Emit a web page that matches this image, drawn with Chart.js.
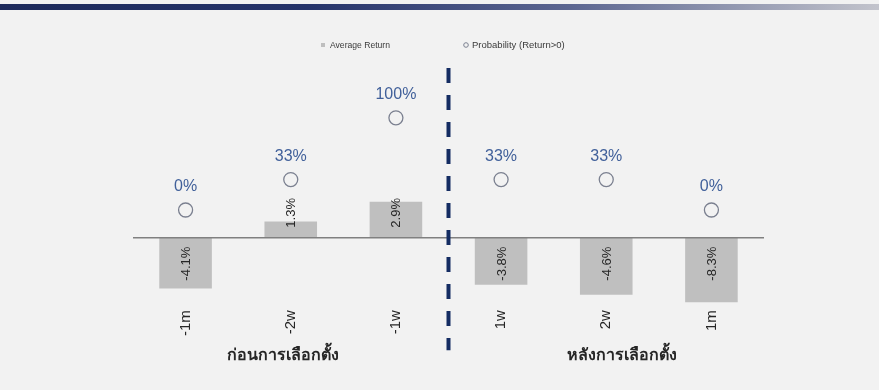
<!DOCTYPE html>
<html>
<head>
<meta charset="utf-8">
<script src="https://cdn.jsdelivr.net/npm/chart.js@4.4.1/dist/chart.umd.min.js"></script>
<style>
  html, body { margin: 0; padding: 0; background: #f2f2f2; }
  .top-band { position: absolute; left: 0; top: 4px; width: 879px; height: 6px;
    background: linear-gradient(to right, #1d2a5b 0%, #25336a 35%, #5c6691 65%, #c3c4cc 100%); }
  .chart-box { position: relative; width: 879px; height: 390px; }
</style>
</head>
<body>
<div class="chart-box">
  <div class="top-band"></div>
  <canvas id="chart_main" width="879" height="390"></canvas>
</div>
<script>
var categories = ["-1m", "-2w", "-1w", "1w", "2w", "1m"];
var avg_return = [-4.1, 1.3, 2.9, -3.8, -4.6, -8.3];
var prob_positive = [0, 33, 100, 33, 33, 0];
var group_labels = ["ก่อนการเลือกตั้ง", "หลังการเลือกตั้ง"];
var legend_labels = ["Average Return", "Probability (Return>0)"];

var bar_color = "#bfbfbf";
var circle_color = "#7b8090";
var prob_text_color = "#41609a";
var text_dark = "#262626";

// value labels, zero line, election divider, group names, legend
var extrasPlugin = {
  id: "extras",
  afterDatasetsDraw: function(chart) {
    var ctx = chart.ctx;
    var area = chart.chartArea;
    var y0 = chart.scales.y.getPixelForValue(0);

    // zero line over the bars
    ctx.save();
    ctx.strokeStyle = "#808080";
    ctx.lineWidth = 1.5;
    ctx.beginPath();
    ctx.moveTo(area.left, y0);
    ctx.lineTo(area.right, y0);
    ctx.stroke();
    ctx.restore();

    // bar values, rotated, near the zero line
    var bars = chart.getDatasetMeta(0).data;
    ctx.save();
    ctx.font = "13px 'Liberation Sans', Arial, sans-serif";
    ctx.fillStyle = text_dark;
    ctx.textBaseline = "middle";
    bars.forEach(function(bar, i) {
      var v = avg_return[i];
      ctx.save();
      ctx.translate(bar.x, v >= 0 ? y0 - 10 : y0 + 9);
      ctx.rotate(-Math.PI / 2);
      ctx.textAlign = v >= 0 ? "left" : "right";
      ctx.fillText(v.toFixed(1) + "%", 0, 1);
      ctx.restore();
    });
    ctx.restore();

    // probability labels above the circles
    var pts = chart.getDatasetMeta(1).data;
    ctx.save();
    ctx.font = "16px 'Liberation Sans', Arial, sans-serif";
    ctx.fillStyle = prob_text_color;
    ctx.textAlign = "center";
    ctx.textBaseline = "middle";
    pts.forEach(function(pt, i) {
      ctx.fillText(prob_positive[i] + "%", pt.x, pt.y - 23);
    });
    ctx.restore();
  },
  afterDraw: function(chart) {
    var ctx = chart.ctx;
    var area = chart.chartArea;
    var xs = chart.scales.x;

    // dashed divider between before / after
    var xd = (xs.getPixelForValue(2) + xs.getPixelForValue(3)) / 2;
    ctx.save();
    ctx.strokeStyle = "#142c62";
    ctx.lineWidth = 4;
    ctx.setLineDash([15, 12]);
    ctx.beginPath();
    ctx.moveTo(xd, area.top - 1);
    ctx.lineTo(xd, area.bottom + 48);
    ctx.stroke();
    ctx.restore();

    // group names under the ticks
    ctx.save();
    ctx.font = "bold 16px 'Noto Sans', 'DejaVu Sans', sans-serif";
    ctx.fillStyle = text_dark;
    ctx.textAlign = "center";
    ctx.textBaseline = "middle";
    ctx.fillText(group_labels[0], xs.getPixelForValue(1) - 8, area.bottom + 53);
    ctx.fillText(group_labels[1], xs.getPixelForValue(4) + 16, area.bottom + 53);
    ctx.restore();

    // legend
    ctx.save();
    ctx.font = "9.5px 'Liberation Sans', Arial, sans-serif";
    ctx.textBaseline = "middle";
    ctx.fillStyle = bar_color;
    ctx.fillRect(321, 43, 4, 4);
    ctx.fillStyle = "#3a3a3a";
    ctx.fillText(legend_labels[0], 330, 45, 60);
    ctx.strokeStyle = circle_color;
    ctx.lineWidth = 1;
    ctx.beginPath();
    ctx.arc(466, 45, 2.3, 0, Math.PI * 2);
    ctx.stroke();
    ctx.fillText(legend_labels[1], 472, 45, 99);
    ctx.restore();
  }
};

var chart_main = new Chart(document.getElementById("chart_main"), {
  data: {
    labels: categories,
    datasets: [
      {
        type: "bar",
        label: legend_labels[0],
        data: avg_return,
        backgroundColor: bar_color,
        barPercentage: 0.5,
        categoryPercentage: 1,
        yAxisID: "y",
        order: 2
      },
      {
        type: "line",
        label: legend_labels[1],
        data: prob_positive,
        showLine: false,
        pointRadius: 7,
        pointHoverRadius: 7,
        pointBorderWidth: 1.3,
        pointBorderColor: circle_color,
        pointBackgroundColor: "rgba(0,0,0,0)",
        yAxisID: "y2",
        order: 1
      }
    ]
  },
  options: {
    responsive: false,
    animation: false,
    layout: { padding: { left: 133, right: 115, top: 69, bottom: 46 } },
    plugins: {
      legend: { display: false },
      tooltip: { enabled: false }
    },
    scales: {
      x: {
        grid: { display: false, drawTicks: false },
        border: { display: false },
        ticks: {
          minRotation: 90,
          maxRotation: 90,
          padding: 8,
          color: text_dark,
          font: { family: "'Liberation Sans', Arial, sans-serif", size: 15 }
        }
      },
      y: { display: false, min: -5.2, max: 13.6 },
      y2: { display: false, position: "right", min: -100, max: 153 }
    }
  },
  plugins: [extrasPlugin]
});
</script>
</body>
</html>
